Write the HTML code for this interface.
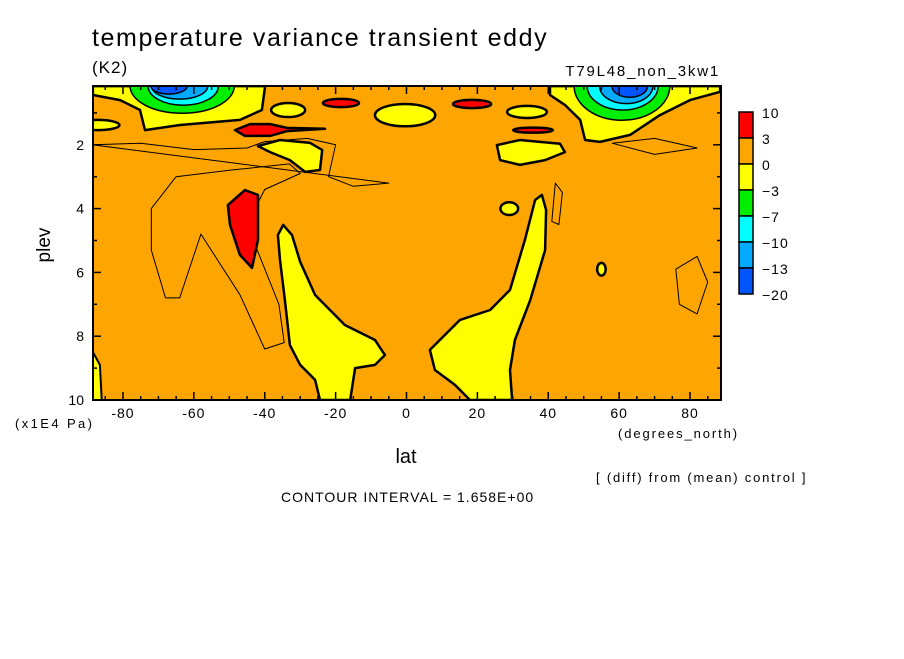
<!DOCTYPE html>
<html><head><meta charset="utf-8">
<style>
body{margin:0;background:#fff;width:904px;height:654px;overflow:hidden;font-family:"Liberation Sans",sans-serif;}
svg text{font-family:"Liberation Sans",sans-serif;fill:#000;}
</style></head><body>
<svg id="c" width="904" height="654">
<rect width="904" height="654" fill="#fff"/>
<text x="92" y="46" font-size="25" letter-spacing="1.6">temperature variance transient eddy</text>
<text x="92" y="73" font-size="17" letter-spacing="1">(K2)</text>
<text x="720" y="76" font-size="15" letter-spacing="1.8" text-anchor="end">T79L48_non_3kw1</text>
<g id="plot"></g>
<g id="axes"></g>
<g id="legend"></g>
<text x="50" y="245" font-size="19" text-anchor="middle" transform="rotate(-90 50 245)">plev</text>
<text x="15" y="428" font-size="13" letter-spacing="2.4">(x1E4 Pa)</text>
<text x="406" y="463" font-size="20" text-anchor="middle">lat</text>
<text x="618" y="438" font-size="13" letter-spacing="1.9">(degrees_north)</text>
<text x="596" y="482" font-size="13" letter-spacing="1.8">[ (diff) from (mean) control ]</text>
<text x="281" y="502" font-size="14" letter-spacing="1">CONTOUR INTERVAL = 1.658E+00</text>
</svg>
<script>
const latTicks=[-80,-60,-40,-20,0,20,40,60,80];
const plevTicks=[2,4,6,8,10];
const legendLabels=["10","3","0","-3","-7","-10","-13","-20"];
const legendColors=["#ff0000","#ffa500","#ffff00","#00ee00","#00ffff","#00aaff","#0055ff"];
const yellowNW=[[-88.5,0.16],[-39.9,0.16],[-40.8,0.91],[-47,1.22],[-63.9,1.38],[-73.8,1.54],[-75.2,0.91],[-80.8,0.6],[-88.5,0.44]];
const yellowNE=[[40.5,0.16],[88.5,0.16],[88.5,0.34],[80,0.6],[71.5,1.07],[63.1,1.69],[54.6,1.91],[50.4,1.85],[49,1.22],[44.7,0.75],[40.5,0.44]];
const redMidLeft=[[-48.4,1.54],[-44.2,1.35],[-38.5,1.35],[-33.7,1.47],[-23,1.5],[-33.7,1.57],[-38.5,1.72],[-45.6,1.72]];
const yellowMidLeft=[[-41.9,2.04],[-35.7,1.85],[-27.2,1.94],[-23.8,2.16],[-24.4,2.79],[-28.6,2.85],[-32.9,2.48],[-38.5,2.23]];
const yellowMidRight=[[25.5,2.01],[32,1.85],[43.3,1.97],[44.7,2.23],[39.1,2.48],[32,2.63],[26.4,2.48]];
const redBig=[[-50.4,3.89],[-45.6,3.42],[-41.9,3.57],[-41.9,4.98],[-43.6,5.86],[-47,5.45],[-49.8,4.51]];
const yellowLowLeft=[[-34.8,4.51],[-32.3,4.83],[-30,5.67],[-25.8,6.71],[-17.4,7.65],[-8.9,8.12],[-6.1,8.59],[-8.9,8.9],[-14.5,9.0],[-15.9,10],[-24.4,10],[-25.8,9.37],[-30,8.9],[-32.9,8.28],[-34.3,6.87],[-35.7,5.61],[-36.3,4.83]];
const yellowLowRight=[[6.6,8.43],[15.1,7.49],[23.6,7.18],[29.2,6.55],[33.4,4.98],[36.3,3.73],[38.2,3.57],[39.4,4.04],[39.1,5.3],[34.9,6.87],[30.6,8.12],[29.2,9.06],[29.8,10],[17.9,10],[13.7,9.53],[8,9.06]];
const yellowCorner=[[-88.5,8.5],[-86.5,8.9],[-86,10],[-88.5,10]];
const yellowBlobs=[[-33.4,0.91,4.8,0.22],[-0.4,1.07,8.5,0.35],[34,0.97,5.6,0.19],[-87,1.38,6,0.16],[29,4.0,2.5,0.2],[55,5.9,1.2,0.2]];
const redBlobs=[[-18.5,0.69,5.1,0.13],[18.5,0.72,5.4,0.13],[35.7,1.54,5.6,0.08]];
const nwCore=[[-63.3,0.16,14.7,0.85],[-63,0.16,9.9,0.6],[-64,0.16,7.9,0.41],[-67,0.16,5.1,0.25]];
const neCore=[[60.8,0.16,13.5,1.07],[61,0.16,10,0.75],[62,0.16,7.5,0.55],[63,0.16,5,0.35]];
const thinLoopLeft=[[-72,4.0],[-65,3.0],[-50,2.8],[-33,2.6],[-30,2.9],[-40,3.4],[-45,4.5],[-36,7.0],[-34.5,8.2],[-40,8.4],[-47,6.7],[-58,4.8],[-64,6.8],[-68,6.8],[-72,5.3]];
const thinLineLeft=[[-88.5,2.0],[-75,1.95],[-60,2.15],[-45,2.1],[-40,1.9],[-28,1.8],[-20,2.0],[-22,3.0],[-15,3.3],[-5,3.2]];
const thinLoopRight=[[42,3.2],[44,3.5],[43,4.5],[41,4.4]];
const thinLoopRight2=[[76,5.9],[82,5.5],[85,6.3],[82,7.3],[77,7.0]];
const thinLoopNE=[[58,1.95],[70,1.8],[82,2.1],[70,2.3]];

const X0=93,X1=721,Y0=86,Y1=400;
function xs(lat){return 406.5+lat*3.544;}
function ys(p){return 81+p*31.9;}
const NS="http://www.w3.org/2000/svg";
const plot=document.getElementById('plot'),axes=document.getElementById('axes'),leg=document.getElementById('legend');
function mk(tag,attrs,parent){const e=document.createElementNS(NS,tag);for(const k in attrs)e.setAttribute(k,attrs[k]);parent.appendChild(e);return e;}
const clip=mk('clipPath',{id:'pc'},document.getElementById('c'));
mk('rect',{x:X0,y:Y0,width:X1-X0,height:Y1-Y0},clip);
plot.setAttribute('clip-path','url(#pc)');
const bg=mk('rect',{x:X0,y:Y0,width:X1-X0,height:Y1-Y0,fill:'#ffa500'},plot);


function poly(pts,fill,sw,name,dash){
  const d=pts.map(p=>xs(p[0]).toFixed(1)+','+ys(p[1]).toFixed(1)).join(' ');
  const e=mk(fill?'polygon':'polyline',{points:d,fill:fill||'none',stroke:'#000','stroke-width':sw,'stroke-linejoin':'round'},plot);
  if(dash)e.setAttribute('stroke-dasharray',dash);
  
  
}
function ell(b,fill,sw,name){
  const e=mk('ellipse',{cx:xs(b[0]),cy:ys(b[1]),rx:b[2]*3.544,ry:b[3]*31.9,fill:fill,stroke:'#000','stroke-width':sw},plot);
  
  
}
poly(thinLoopLeft,'none',1,'thin-contour-left');
poly(thinLineLeft,'none',1,'thin-contour-line');
poly(thinLoopRight.concat([thinLoopRight[0]]),'none',1,'thin-contour-right');
poly(thinLoopRight2.concat([thinLoopRight2[0]]),'none',1,'thin-contour-right2');
poly(thinLoopNE.concat([thinLoopNE[0]]),'none',1,'thin-contour-ne');
poly(yellowNW,'#ffff00',2.5,'negative-region-nw');
poly(yellowNE,'#ffff00',2.5,'negative-region-ne');
const coreCols=['#00ee00','#00ffff','#00aaff','#0055ff'];
nwCore.forEach((b,i)=>ell(b,coreCols[i],1.5,'core-nw-'+i));
neCore.forEach((b,i)=>ell(b,coreCols[i],1.5,'core-ne-'+i));
yellowBlobs.forEach((b,i)=>ell(b,'#ffff00',2.5,'negative-blob-'+i));
poly(yellowMidLeft,'#ffff00',2.5,'negative-region-mid-left');
poly(yellowMidRight,'#ffff00',2.5,'negative-region-mid-right');
poly(yellowLowLeft,'#ffff00',2.5,'negative-region-low-left');
poly(yellowLowRight,'#ffff00',2.5,'negative-region-low-right');
poly(yellowCorner,'#ffff00',2,'negative-region-corner');
poly(redMidLeft,'#ff0000',2.5,'high-region-mid-left');
poly(redBig,'#ff0000',2.5,'high-region-big');
redBlobs.forEach((b,i)=>ell(b,'#ff0000',2.5,'high-blob-'+i));
const fr=mk('rect',{x:X0,y:Y0,width:X1-X0,height:Y1-Y0,fill:'none',stroke:'#000','stroke-width':2},axes);


for(let l=-85;l<=85;l+=5){
  const big=l%20===0;const x=xs(l);
  mk('line',{x1:x,x2:x,y1:Y1,y2:Y1-(big?8:4),stroke:'#000','stroke-width':1.5},axes);
  mk('line',{x1:x,x2:x,y1:Y0,y2:Y0+(big?8:4),stroke:'#000','stroke-width':1.5},axes);
}
latTicks.forEach(l=>{const t=mk('text',{x:xs(l),y:418,'font-size':14,'text-anchor':'middle','letter-spacing':1},axes);t.textContent=l;

});
for(let p=1;p<=10;p++){const y=ys(p);const big=p%2===0;
  mk('line',{x1:X0,x2:X0+(big?8:4),y1:y,y2:y,stroke:'#000','stroke-width':1.5},axes);
  mk('line',{x1:X1,x2:X1-(big?8:4),y1:y,y2:y,stroke:'#000','stroke-width':1.5},axes);}
plevTicks.forEach(p=>{const t=mk('text',{x:84,y:ys(p)+5,'font-size':14,'text-anchor':'end'},axes);t.textContent=p;

});
legendColors.forEach((c,i)=>{const r=mk('rect',{x:739,y:112+i*26,width:14,height:26,fill:c,stroke:'#000','stroke-width':1.5},leg);

});
legendLabels.forEach((s,i)=>{const t=mk('text',{x:762,y:118+i*26,'font-size':14,'letter-spacing':1},leg);t.textContent=s.replace('-','\u2212');

});
</script>
</body></html>
